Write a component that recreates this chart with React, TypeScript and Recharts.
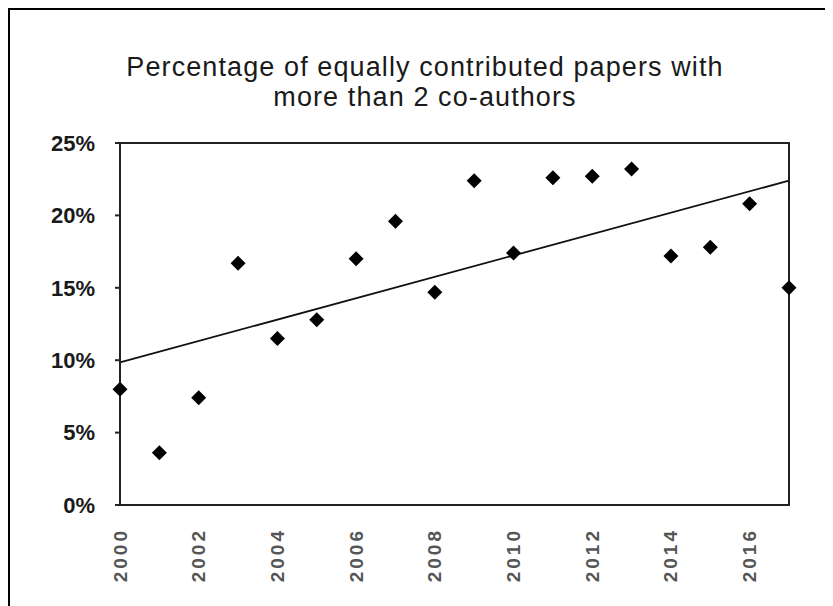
import React from 'react';
import {
  ComposedChart,
  Scatter,
  Line,
  XAxis,
  YAxis,
  ReferenceArea,
} from 'recharts';

const years = [
  2000, 2001, 2002, 2003, 2004, 2005, 2006, 2007, 2008,
  2009, 2010, 2011, 2012, 2013, 2014, 2015, 2016, 2017,
];
const shares = [
  8.0, 3.6, 7.4, 16.7, 11.5, 12.8, 17.0, 19.6, 14.7,
  22.4, 17.4, 22.6, 22.7, 23.2, 17.2, 17.8, 20.8, 15.0,
];
// linear trend line ends
const trendYears = [2000, 2017];
const trendValues = [9.85, 22.4];

const xTicks = [2000, 2002, 2004, 2006, 2008, 2010, 2012, 2014, 2016];
const yTicks = [0, 5, 10, 15, 20, 25];

const titleLines = [
  'Percentage of equally contributed papers with',
  'more than 2 co-authors',
];

const points = years.map((year, i) => ({ year, value: shares[i] }));
const trend = trendYears.map((year, i) => ({ year, trend: trendValues[i] }));

const W = 823;
const H = 596;
const FONT = 'Arial, "Liberation Sans", Helvetica, sans-serif';

const Diamond = (props: any) => {
  const { cx, cy } = props;
  const r = 7.5;
  return (
    <path
      d={`M${cx},${cy - r}L${cx + r},${cy}L${cx},${cy + r}L${cx - r},${cy}Z`}
      fill="#000"
    />
  );
};

const YearTick = (props: any) => {
  const { x, y, payload } = props;
  return (
    <text
      x={x}
      y={y + 15}
      transform={`rotate(-90, ${x}, ${y + 15})`}
      textAnchor="end"
      dominantBaseline="central"
      fontFamily={FONT}
      fontWeight="bold"
      fontSize={19}
      letterSpacing={3}
      fill="#555"
    >
      {payload.value}
    </text>
  );
};

export default function App() {
  return (
    <div
      style={{
        position: 'relative',
        width: W,
        height: H,
        borderTop: '2px solid #000',
        borderLeft: '2px solid #000',
        background: '#fff',
      }}
    >
      <svg
        width={W}
        height={120}
        style={{ position: 'absolute', left: 0, top: 0 }}
      >
        {titleLines.map((t, i) => (
          <text
            key={i}
            x={415}
            y={66 + i * 30}
            textAnchor="middle"
            fontFamily={FONT}
            fontSize={27}
            letterSpacing={1.1}
            fill="#1a1a1a"
          >
            {t}
          </text>
        ))}
      </svg>
      <ComposedChart
        width={W}
        height={H}
        margin={{ top: 133, right: 44, bottom: 41, left: 0 }}
        style={{ position: 'absolute', left: 0, top: 0 }}
      >
        <XAxis
          type="number"
          dataKey="year"
          domain={[2000, 2017]}
          ticks={xTicks}
          interval={0}
          height={60}
          tickLine={false}
          axisLine={{ stroke: '#222', strokeWidth: 2 }}
          tick={<YearTick />}
        />
        <YAxis
          type="number"
          domain={[0, 25]}
          ticks={yTicks}
          interval={0}
          width={110}
          tickSize={5}
          tickMargin={20}
          tickFormatter={(v: number) => `${v}%`}
          axisLine={{ stroke: '#222', strokeWidth: 2 }}
          tickLine={{ stroke: '#222', strokeWidth: 2 }}
          tick={{
            fontFamily: FONT,
            fontWeight: 'bold',
            fontSize: 22,
            fill: '#1a1a1a',
          }}
        />
        <ReferenceArea
          x1={2000}
          x2={2017}
          y1={0}
          y2={25}
          fill="none"
          fillOpacity={0}
          stroke="#222"
          strokeWidth={2}
        />
        <Line
          data={trend}
          dataKey="trend"
          type="linear"
          stroke="#111"
          strokeWidth={1.8}
          dot={false}
          activeDot={false}
          isAnimationActive={false}
        />
        <Scatter
          data={points}
          dataKey="value"
          shape={<Diamond />}
          isAnimationActive={false}
        />
      </ComposedChart>
    </div>
  );
}
